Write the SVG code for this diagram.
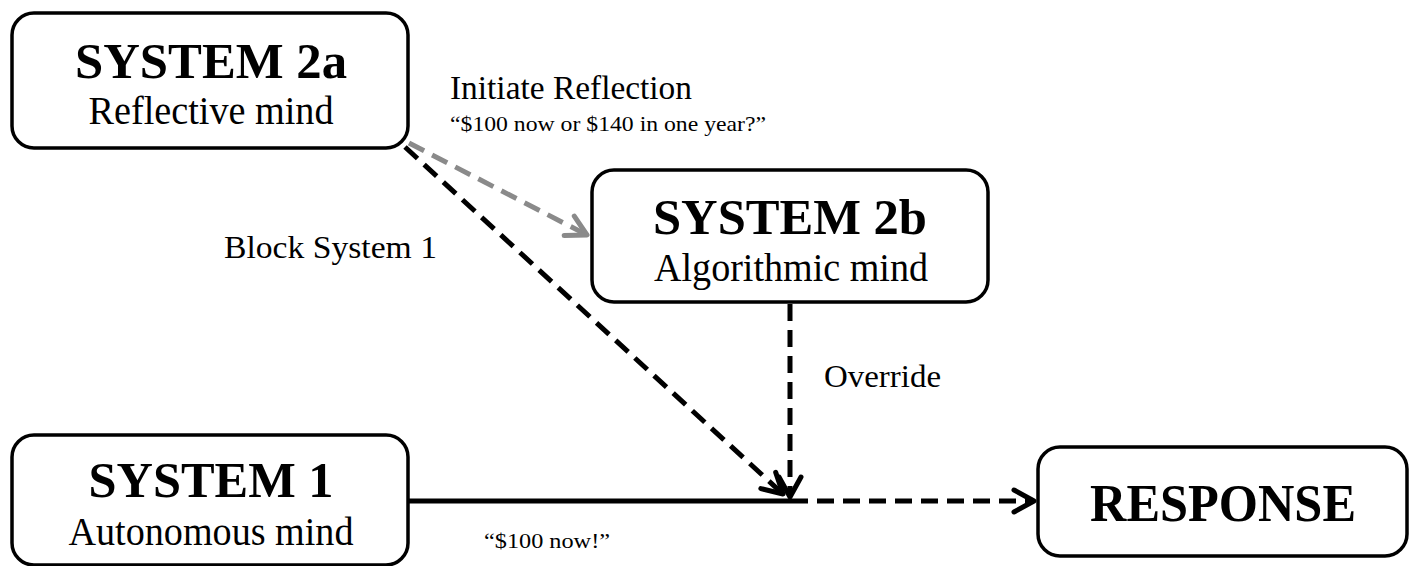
<svg xmlns="http://www.w3.org/2000/svg" width="1413" height="566" viewBox="0 0 1413 566">
<style>
.box{fill:#fff;stroke:#000;stroke-width:3.5}
.t{font-family:"Liberation Serif","Times New Roman",serif;fill:#000}
.b{font-weight:bold}
.blk{fill:none;stroke:#000;stroke-width:5}
.dash{stroke-dasharray:17 9}
.gray{fill:none;stroke:#8a8a8a;stroke-width:5}
</style>
<defs>
<marker id="ah" viewBox="0 0 28 28" markerWidth="28" markerHeight="28" markerUnits="userSpaceOnUse" refX="24" refY="14" orient="auto">
<path d="M4,3 L24,14 L4,25" fill="none" stroke="#000" stroke-width="5" stroke-linecap="round" stroke-linejoin="round"/>
</marker>
<marker id="ahg" viewBox="0 0 28 28" markerWidth="28" markerHeight="28" markerUnits="userSpaceOnUse" refX="24" refY="14" orient="auto">
<path d="M4,3 L24,14 L4,25" fill="none" stroke="#8a8a8a" stroke-width="5" stroke-linecap="round" stroke-linejoin="round"/>
</marker>
</defs>
<g id="connectors">
<line class="blk" x1="408" y1="501" x2="791" y2="501"/>
<line class="blk dash" x1="791" y1="501" x2="1034" y2="501" marker-end="url(#ah)"/>
<line class="blk dash" x1="790" y1="304" x2="790" y2="497" marker-end="url(#ah)"/>
<line class="blk dash" x1="405" y1="147" x2="783" y2="494" marker-end="url(#ah)"/>
<line class="gray dash" x1="409" y1="143" x2="587" y2="235" marker-end="url(#ahg)"/>
</g>
<g id="labels">
<text class="t" x="450" y="99" font-size="33" textLength="242" lengthAdjust="spacingAndGlyphs">Initiate Reflection</text>
<text class="t" x="450" y="131" font-size="21" textLength="316" lengthAdjust="spacingAndGlyphs">“$100  now or $140 in one year?”</text>
<text class="t" x="224" y="258" font-size="32" textLength="213" lengthAdjust="spacingAndGlyphs">Block System 1</text>
<text class="t" x="824" y="387" font-size="32" textLength="117" lengthAdjust="spacingAndGlyphs">Override</text>
<text class="t" x="484" y="548" font-size="21" textLength="126" lengthAdjust="spacingAndGlyphs">“$100 now!”</text>
</g>
<g id="system2a">
<rect class="box" x="12" y="13" width="396" height="135" rx="22"/>
<text class="t b" x="211" y="78" font-size="50" text-anchor="middle" textLength="272" lengthAdjust="spacingAndGlyphs">SYSTEM 2a</text>
<text class="t" x="211" y="124" font-size="40" text-anchor="middle" textLength="245" lengthAdjust="spacingAndGlyphs">Reflective mind</text>
</g>
<g id="system2b">
<rect class="box" x="592" y="170" width="396" height="132" rx="22"/>
<text class="t b" x="790" y="234" font-size="50" text-anchor="middle" textLength="274" lengthAdjust="spacingAndGlyphs">SYSTEM 2b</text>
<text class="t" x="791" y="281" font-size="40" text-anchor="middle" textLength="274" lengthAdjust="spacingAndGlyphs">Algorithmic mind</text>
</g>
<g id="system1">
<rect class="box" x="12" y="435" width="396" height="130" rx="22"/>
<text class="t b" x="211" y="497" font-size="50" text-anchor="middle" textLength="245" lengthAdjust="spacingAndGlyphs">SYSTEM 1</text>
<text class="t" x="211" y="545" font-size="40" text-anchor="middle" textLength="285" lengthAdjust="spacingAndGlyphs">Autonomous mind</text>
</g>
<g id="response">
<rect class="box" x="1038" y="447" width="369" height="109" rx="22"/>
<text class="t b" x="1223" y="521" font-size="53" text-anchor="middle" textLength="266" lengthAdjust="spacingAndGlyphs">RESPONSE</text>
</g>
</svg>
